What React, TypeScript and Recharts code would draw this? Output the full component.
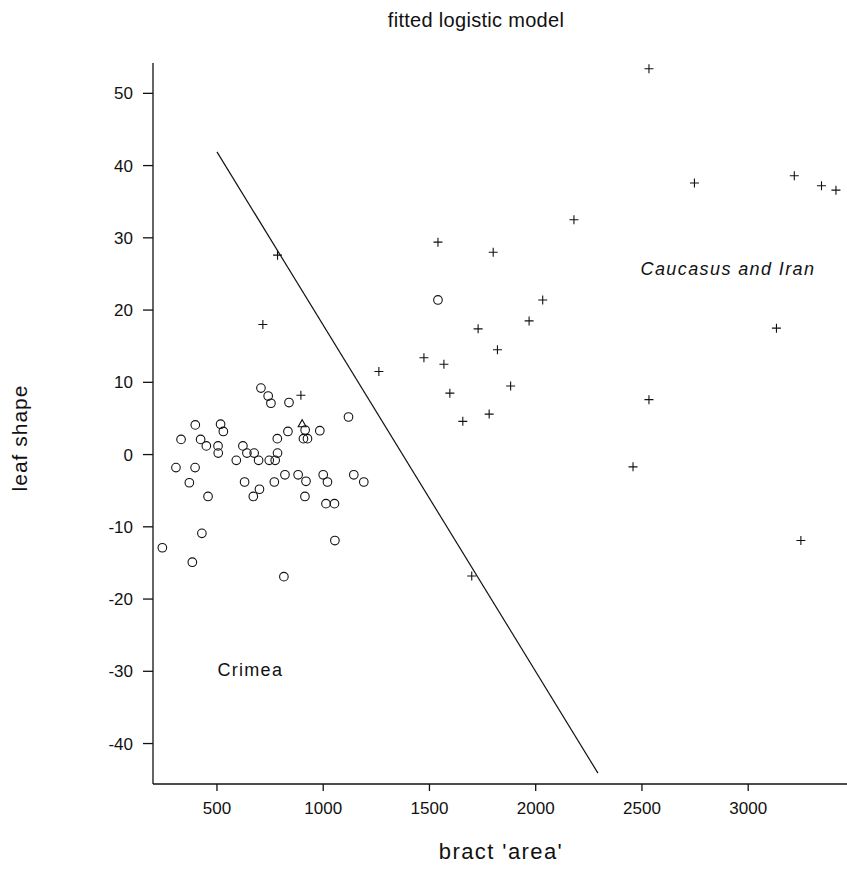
import {
  ReferenceDot,
  ReferenceLine,
  Scatter,
  ScatterChart,
  XAxis,
  YAxis,
} from 'recharts';

// Crimea (open circles): [bract area, leaf shape]
const crimeaPoints: [number, number][] = [
  [707, 9.2], [741, 8.1], [754, 7.1], [839, 7.2], [1119, 5.2],
  [398, 4.1], [517, 4.2], [530, 3.2], [834, 3.2], [915, 3.4],
  [984, 3.3], [331, 2.1], [423, 2.1], [450, 1.2], [505, 1.2],
  [506, 0.2], [784, 2.2], [907, 2.2], [926, 2.2], [622, 1.2],
  [641, 0.2], [675, 0.2], [785, 0.2], [591, -0.8], [696, -0.8],
  [746, -0.8], [774, -0.8], [307, -1.8], [397, -1.8], [820, -2.8],
  [882, -2.8], [1000, -2.8], [1144, -2.8], [370, -3.9], [630, -3.8],
  [770, -3.8], [919, -3.7], [1020, -3.8], [1191, -3.8], [700, -4.8],
  [458, -5.8], [671, -5.8], [914, -5.8], [1013, -6.8], [1053, -6.8],
  [429, -10.9], [243, -12.9], [1055, -11.9], [384, -14.9], [815, -16.9],
  [1540, 21.4],
];

// Caucasus and Iran (plus signs)
const caucasusPoints: [number, number][] = [
  [2533, 53.4], [2747, 37.6], [3217, 38.6], [3345, 37.2], [3413, 36.6],
  [2180, 32.5], [1540, 29.4], [1800, 28.0], [785, 27.6], [2033, 21.4],
  [1729, 17.4], [1969, 18.5], [3133, 17.5], [716, 18.0], [1820, 14.5],
  [1474, 13.4], [1568, 12.5], [1262, 11.5], [1596, 8.5], [1882, 9.5],
  [2533, 7.6], [1781, 5.6], [1657, 4.6], [2458, -1.7], [3248, -11.9],
  [1699, -16.8], [895, 8.2],
];

// the odd one out (triangle)
const otherPoints: [number, number][] = [[901, 4.2]];

// fitted logistic boundary
const boundary: [number, number][] = [[500, 41.9], [2293, -44.1]];

const xTicks = [500, 1000, 1500, 2000, 2500, 3000];
const yTicks = [-40, -30, -20, -10, 0, 10, 20, 30, 40, 50];

const toXY = (pts: [number, number][]) => pts.map(([x, y]) => ({ x, y }));

const INK = '#111';
const FONT = '"Liberation Sans", Arial, Helvetica, sans-serif';

const Ring = (p: any) => (
  <circle cx={p.cx} cy={p.cy} r={4.3} fill="none" stroke={INK} strokeWidth={1.1} />
);

const Plus = (p: any) => (
  <path
    d={`M${p.cx - 4.5},${p.cy}h9M${p.cx},${p.cy - 4.5}v9`}
    stroke={INK}
    strokeWidth={1.1}
    fill="none"
  />
);

const Tri = (p: any) => (
  <path
    d={`M${p.cx},${p.cy - 4.5}L${p.cx + 4},${p.cy + 2.5}L${p.cx - 4},${p.cy + 2.5}Z`}
    stroke={INK}
    strokeWidth={1.1}
    fill="none"
  />
);

const tickStyle = { fill: INK, fontSize: 17, fontFamily: FONT };

export default function App() {
  const [p0, p1] = boundary;
  return (
    <div
      style={{
        position: 'absolute',
        left: 0,
        top: 0,
        width: 847,
        height: 875,
        background: '#fff',
        fontFamily: FONT,
        color: INK,
        overflow: 'hidden',
      }}
    >
      <div
        style={{
          position: 'absolute',
          left: 276,
          top: 9,
          width: 400,
          textAlign: 'center',
          fontSize: 20,
          lineHeight: '22px',
          letterSpacing: 0.3,
        }}
      >
        fitted logistic model
      </div>

      <ScatterChart
        width={847}
        height={875}
        margin={{ top: 63, right: 0, bottom: 0, left: 0 }}
      >
        <XAxis
          type="number"
          dataKey="x"
          domain={[199, 3465]}
          allowDataOverflow
          ticks={xTicks}
          interval={0}
          height={91}
          stroke={INK}
          strokeWidth={1.3}
          tickSize={7}
          tickMargin={11}
          tick={tickStyle}
        />
        <YAxis
          type="number"
          dataKey="y"
          domain={[-45.6, 54.2]}
          allowDataOverflow
          ticks={yTicks}
          interval={0}
          width={153}
          stroke={INK}
          strokeWidth={1.3}
          tickSize={10}
          tickMargin={10}
          tick={tickStyle}
        />
        <ReferenceLine
          segment={[
            { x: p0[0], y: p0[1] },
            { x: p1[0], y: p1[1] },
          ]}
          stroke={INK}
          strokeWidth={1.2}
        />
        <Scatter data={toXY(crimeaPoints)} shape={Ring} isAnimationActive={false} />
        <Scatter data={toXY(caucasusPoints)} shape={Plus} isAnimationActive={false} />
        <Scatter data={toXY(otherPoints)} shape={Tri} isAnimationActive={false} />
        <ReferenceDot
          x={657}
          y={-29.7}
          r={0}
          stroke="none"
          label={{
            value: 'Crimea',
            position: 'center',
            fill: INK,
            fontSize: 18,
            fontFamily: FONT,
            letterSpacing: 1.3,
          }}
        />
        <ReferenceDot
          x={2905}
          y={25.8}
          r={0}
          stroke="none"
          label={{
            value: 'Caucasus and Iran',
            position: 'center',
            fill: INK,
            fontSize: 18,
            fontFamily: FONT,
            fontStyle: 'italic',
            letterSpacing: 1.4,
          }}
        />
      </ScatterChart>

      <div
        style={{
          position: 'absolute',
          left: 301,
          top: 841,
          width: 400,
          textAlign: 'center',
          fontSize: 22,
          lineHeight: '22px',
          letterSpacing: 1.4,
        }}
      >
        bract 'area'
      </div>
      <div
        style={{
          position: 'absolute',
          left: -80,
          top: 427,
          width: 200,
          height: 22,
          textAlign: 'center',
          fontSize: 21,
          lineHeight: '22px',
          letterSpacing: 1,
          transform: 'rotate(-90deg)',
          transformOrigin: 'center',
        }}
      >
        leaf shape
      </div>
    </div>
  );
}
